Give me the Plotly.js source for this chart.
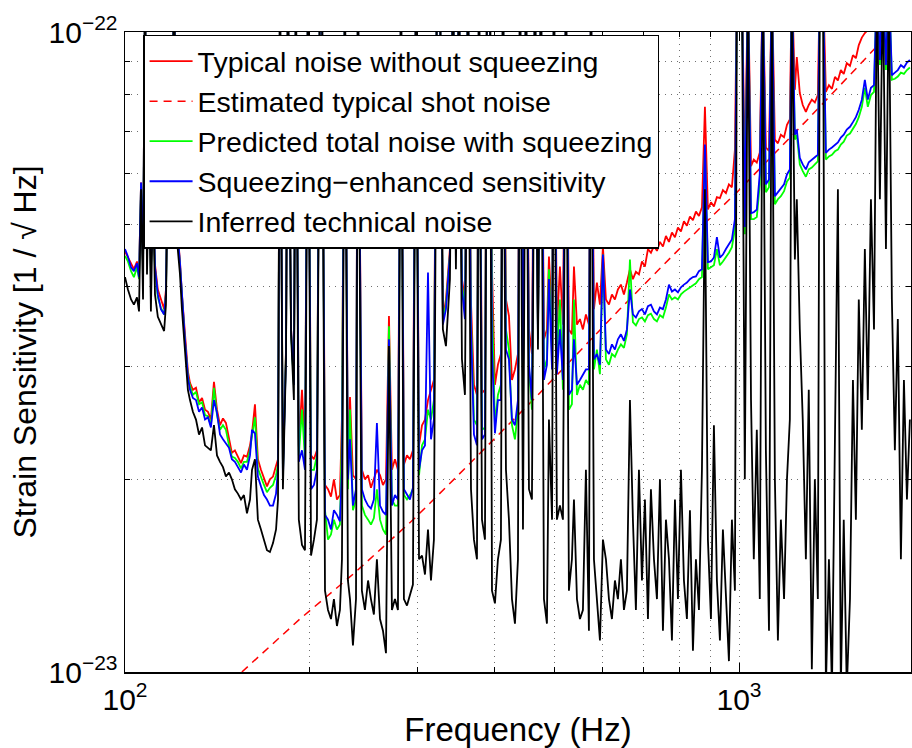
<!DOCTYPE html>
<html>
<head>
<meta charset="utf-8">
<script src="https://cdn.plot.ly/plotly-3.0.1.min.js"></script>
<style>html,body{margin:0;padding:0;background:#fff;}#chart{width:912px;height:748px;}</style>
</head>
<body>
<div id="chart"></div>
<script>
// Strain values are in units of 1e-23 (1/sqrt(Hz)); 12 marks a line peak running off the top.
const UNIT = 1e-23;

const freqHz = [
100.0,101.1,102.3,103.4,104.6,105.4,106.2,107.0,107.8,108.6,109.4,110.2,111.1,111.9,113.1,114.4,115.8,116.6,117.5,118.9,120.2,121.5,122.9,123.8,125.2,126.6,
127.6,129.0,130.5,132.0,133.5,135.0,136.5,138.0,139.6,141.2,
142.8,144.4,146.0,147.7,149.3,151.0,152.7,154.5,156.2,158.0,
159.8,161.0,162.8,164.6,166.5,168.4,170.3,172.2,174.2,176.2,
177.5,178.8,180.8,182.9,184.2,186.4,188.4,189.8,191.9,194.2,
196.4,198.6,200.9,203.1,205.4,207.7,209.3,211.7,214.1,216.5,
218.9,221.4,223.9,225.6,228.1,230.7,232.5,235.1,237.8,239.5,
243.1,245.9,248.8,251.5,254.3,257.2,260.2,263.1,266.1,269.1,
272.1,275.2,278.3,281.5,284.6,287.9,291.1,294.4,297.7,301.2,
304.6,308.0,311.5,315.0,318.5,322.1,325.8,329.4,333.2,
338.2,342.1,345.9,349.9,353.8,357.8,361.9,366.0,370.1,374.3,
377.1,381.4,385.7,388.6,393.0,396.0,400.4,404.9,409.5,412.6,
417.3,422.0,426.8,431.6,436.5,439.8,444.8,449.8,454.9,460.0,
465.2,470.5,475.8,481.2,486.6,490.3,496.0,499.5,505.1,510.9,
516.7,522.6,528.4,534.4,538.5,544.6,550.7,556.9,563.2,569.6,
573.9,580.4,586.9,593.6,600.3,607.1,614.0,620.9,627.9,635.0,
642.2,649.5,656.8,664.3,
671.7,679.3,687.1,694.9,702.7,710.7,718.7,726.9,735.1,743.4,751.8,760.3,769.0,777.6,786.4,795.3,804.3,813.4,822.5,831.9,841.3,850.8,860.5,870.2,880.0,889.9,900.1,910.2,920.4,930.9,941.4,952.1,962.9,973.7,984.8,
992.2,1000,1011,1022,1034,
1046,1057,1069,1081,1093,1106,1119,1131,1144,1157,1170,1184,1197,1210,
1219,
1233,1242,
1256,1270,1285,1299,1314,1329,1344,
1354,
1370,1385,1401,1417,1433,1449,1465,1481,1498,1516,1533,1550,1567,1585,1603,1621,1640,1659,1677,1696,1715,1735,1754,1774,1794,1814,1835,1856,1877,1898
];

const typicalNoise = [
4.54,4.44,4.33,4.26,4.38,4.18,5.82,4.33,12,4.58,6.55,4.26,5.88,4.33,3.96,3.82,3.69,3.96,6.79,5.10,12,5.01,4.38,3.89,3.33,2.95,
2.83,2.76,2.78,2.64,2.68,2.57,2.55,2.48,2.84,2.57,
2.43,2.49,2.45,2.31,2.20,2.22,2.17,2.12,2.18,2.17,
2.26,2.36,2.62,2.15,2.07,2.01,1.95,2.00,2.02,2.10,
2.15,12,2.07,3.19,12,3.43,2.86,12,2.25,2.76,
2.22,12,2.18,2.15,2.22,12,12,1.96,1.93,1.88,
2.00,1.86,1.89,2.51,12,2.07,2.69,2.03,2.00,12,
2.07,2.00,2.03,1.94,2.00,2.07,2.03,1.96,2.00,3.60,
2.07,2.15,2.07,12,2.11,2.18,2.15,2.22,12,2.26,
2.43,2.48,2.66,2.76,2.86,12,12,3.56,3.82,
4.58,12,4.74,12,4.11,3.82,12,3.78,2.81,2.71,
12,2.73,2.76,12,12,4.26,2.81,3.02,3.14,12,
3.82,3.60,2.86,2.97,3.14,12,3.19,12,3.43,3.14,
12,3.43,12,3.31,3.43,4.46,3.56,12,3.43,4.30,
3.49,12,3.43,3.37,4.30,3.49,3.56,3.43,3.62,3.49,
12,3.69,4.06,3.75,4.62,3.82,3.75,3.89,3.82,3.96,
4.03,3.89,4.06,4.26,
4.11,4.22,4.18,4.38,4.30,4.58,4.52,4.63,4.55,4.70,4.62,4.80,4.70,4.86,4.78,4.95,4.88,5.06,4.98,5.15,5.08,5.24,5.16,5.32,7.64,5.28,5.42,5.34,5.52,5.50,5.66,5.60,5.78,5.72,6.55,
12,12,12,5.99,12,
6.17,6.32,6.25,6.48,12,6.60,6.52,12,6.79,6.70,6.91,6.85,7.16,7.30,
12,
8.12,9.14,
8.03,7.69,7.50,7.69,7.84,7.76,7.97,
12,
12,8.06,8.26,8.15,8.51,8.40,8.72,8.60,8.94,8.85,9.20,9.10,9.54,9.80,9.96,10.07,10.25,10.44,12,10.63,12,10.63,12,10.53,10.44,10.44,10.44,10.44,10.44,10.44
];

const predictedSqueezed = [
4.47,4.38,4.23,4.14,4.29,4.11,5.78,4.26,12,4.49,6.55,4.18,5.84,4.26,3.85,3.71,3.62,3.89,6.74,5.06,12,4.96,4.32,3.82,3.29,2.90,
2.80,2.71,2.74,2.62,2.64,2.52,2.51,2.43,2.78,2.52,
2.39,2.43,2.39,2.26,2.17,2.16,2.13,2.08,2.13,2.13,
2.22,2.34,2.50,2.08,2.01,1.96,1.91,1.94,1.96,2.03,
2.11,12,2.03,3.17,12,3.39,2.81,12,2.18,2.57,
2.15,12,2.07,2.07,2.18,12,12,1.79,1.61,1.64,
1.73,1.67,1.70,2.37,12,1.93,2.57,1.79,1.86,12,
1.82,1.76,1.73,1.70,1.74,1.93,1.73,1.67,1.64,3.47,
1.86,1.82,1.82,12,1.89,1.86,1.89,1.93,12,2.03,
2.26,2.31,2.57,2.48,2.66,12,12,3.53,3.75,
4.49,12,4.66,12,4.03,3.69,12,3.56,2.48,2.43,
12,2.39,2.41,12,12,3.82,2.43,2.71,2.81,12,
3.43,3.19,2.43,2.31,2.57,12,2.76,12,2.97,2.57,
12,3.37,12,2.97,3.08,4.26,3.14,12,3.08,3.82,
2.76,12,2.57,2.62,3.82,2.71,2.81,2.76,2.86,2.81,
12,2.97,3.19,2.92,4.49,3.08,3.02,3.14,3.11,3.19,
3.25,3.21,3.37,4.41,
3.52,3.48,3.56,3.58,3.53,3.61,3.63,3.56,3.53,3.61,3.58,3.71,3.89,3.82,3.85,3.82,3.89,3.93,3.96,3.99,4.02,4.05,4.11,4.14,6.55,4.26,4.29,4.32,4.58,4.32,4.38,4.44,4.52,4.61,4.92,
12,12,12,4.83,12,
5.10,5.10,5.14,5.78,12,5.62,5.72,12,5.38,5.48,5.54,5.64,5.84,5.92,
12,
6.79,6.91,
6.21,6.06,5.94,6.10,6.14,6.21,6.28,
12,
12,6.32,6.39,6.43,6.51,6.55,6.67,6.74,6.89,6.94,7.06,7.18,7.36,7.64,8.18,7.64,7.97,8.06,12,8.88,12,8.72,12,8.42,8.45,8.52,8.64,8.60,8.72,8.80
];

const squeezedSensitivity = [
4.58,4.46,4.29,4.23,4.35,4.14,5.82,4.29,12,4.58,6.55,4.23,5.88,4.29,3.89,3.69,3.62,3.89,6.79,5.10,12,5.01,4.35,3.85,3.31,2.89,
2.76,2.68,2.66,2.55,2.59,2.48,2.50,2.41,2.66,2.54,
2.35,2.31,2.28,2.24,2.15,2.13,2.09,2.05,2.11,2.07,
2.18,2.39,2.36,2.02,1.95,1.89,1.86,1.82,1.82,1.90,
2.07,12,2.00,3.14,12,3.43,2.81,12,2.13,2.22,
2.07,12,1.93,1.96,2.07,12,12,1.76,1.73,1.67,
1.79,1.76,1.72,2.07,12,2.00,2.31,1.82,1.93,12,
1.93,1.86,1.82,1.80,1.86,2.45,1.82,1.78,1.76,3.31,
1.82,1.89,1.86,12,1.93,1.89,1.86,1.94,12,2.07,
2.22,2.26,4.21,2.31,2.48,12,12,3.49,3.69,
4.49,12,4.66,12,3.96,3.56,12,3.43,2.35,2.26,
12,2.31,2.35,12,12,3.19,2.36,2.66,2.66,12,
3.19,3.08,2.48,2.43,2.66,12,2.81,12,3.02,2.66,
12,3.31,12,2.86,3.02,4.11,2.97,12,2.92,3.43,
2.86,12,2.71,2.76,3.31,2.81,2.86,2.92,2.97,2.97,
12,3.08,3.14,3.02,4.49,3.19,3.14,3.25,3.19,3.31,
3.37,3.29,3.43,3.96,
3.62,3.58,3.66,3.69,3.62,3.73,3.75,3.66,3.62,3.71,3.69,3.82,4.03,3.93,3.96,3.92,3.99,4.03,4.06,4.11,4.14,4.15,4.23,4.26,6.67,4.37,4.38,4.44,4.78,4.44,4.49,4.58,4.66,4.74,5.10,
12,12,12,4.96,12,
5.21,5.23,5.28,6.01,12,5.78,5.88,12,5.54,5.62,5.68,5.78,5.99,6.10,
12,
6.91,7.04,
6.36,6.21,6.10,6.26,6.32,6.39,6.43,
12,
12,6.47,6.55,6.60,6.67,6.72,6.84,6.91,7.04,7.11,7.23,7.36,7.56,7.84,8.42,7.84,8.18,8.26,12,9.04,12,8.88,12,8.56,8.64,8.72,8.88,8.80,8.96,9.04
];

const technicalNoise = [
4.14,3.96,3.82,3.75,3.85,3.66,5.68,3.82,12,4.18,6.32,3.66,5.68,3.89,3.59,3.49,3.41,3.75,6.55,4.96,12,4.74,4.18,3.69,3.14,2.76,
2.66,2.55,2.48,2.35,2.41,2.26,2.24,2.22,2.43,2.18,
2.13,2.09,2.02,2.05,2.00,1.93,1.90,1.86,1.89,1.77,
1.86,2.07,2.15,1.73,1.67,1.61,1.55,1.54,1.59,1.67,
1.86,12,1.93,3.08,12,3.37,2.66,12,1.73,1.58,
1.55,12,1.52,1.61,1.73,12,12,1.34,1.25,1.21,
1.30,1.18,1.25,1.50,12,1.39,1.30,1.10,1.30,12,
1.34,1.25,1.39,1.30,1.23,1.50,1.21,1.16,1.07,3.23,
1.25,1.30,1.25,12,1.30,1.27,1.32,1.37,12,1.50,
1.52,1.42,1.67,1.39,1.61,12,12,3.43,3.23,
4.11,12,4.26,12,3.08,2.71,12,1.93,1.61,1.50,
12,1.73,1.61,12,12,1.34,1.28,1.50,1.61,12,
2.07,1.73,1.30,1.19,1.50,12,1.67,12,1.93,1.86,
12,3.19,12,1.30,1.19,2.48,1.73,12,1.73,1.82,
1.73,12,1.34,1.50,1.86,1.30,1.21,1.25,2.07,1.16,
12,1.50,1.30,1.12,1.61,1.50,1.30,1.21,1.39,1.30,
1.50,1.25,1.34,2.66,
1.73,1.25,2.07,1.39,1.86,1.21,1.93,1.50,1.30,2.00,1.16,1.73,1.50,1.12,1.86,1.30,2.07,1.39,1.21,1.79,1.08,1.50,1.25,2.07,5.68,1.61,1.21,2.43,1.39,1.12,1.67,1.30,1.04,1.73,1.34,
12,12,12,2.00,12,
2.66,1.50,2.39,1.30,12,2.22,1.16,12,2.00,1.12,1.73,1.30,2.00,2.48,
12,
4.41,5.48,
3.43,2.48,1.50,2.76,1.01,2.00,1.30,
12,
12,0.94,1.50,0.94,2.22,5.68,0.94,1.73,0.94,1.30,2.86,1.73,3.82,2.39,4.58,2.66,5.48,3.43,12,5.48,12,4.58,12,3.82,2.22,3.56,1.50,2.86,1.86,2.48
];

const shotFreqHz = [155, 192.7, 236.9, 296.6, 357.8, 468.8, 639.8, 863.7, 992.5, 1304, 1616, 1794];
const shotNoise  = [1.00, 1.21, 1.43, 1.74, 2.08, 2.70, 3.69, 4.94, 5.62, 7.36, 9.14, 10.2];

const legendNames = [
  'Typical noise without squeezing',
  'Estimated typical shot noise',
  'Predicted total noise with squeezing',
  'Squeezing\u2212enhanced sensitivity',
  'Inferred technical noise'
];

const xMajorTicks = [100, 1000];
const xMajorText = ['10<sup>2</sup>', '10<sup>3</sup>'];
const xMinorTicks = [200, 300, 400, 500, 600, 700, 800, 900];
const yMajorTicks = [1, 10];
const yMajorText = ['10<sup>\u221223</sup>', '10<sup>\u221222</sup>'];
const yMinorTicks = [2, 3, 4, 5, 6, 7, 8, 9];

const toStrain = a => a.map(v => v * UNIT);
const n = Math.min(freqHz.length, typicalNoise.length, predictedSqueezed.length, squeezedSensitivity.length, technicalNoise.length);
const fx = freqHz.slice(0, n);

function tr(x, y, name, color, width, dash) {
  return {x: x, y: toStrain(y.slice(0, x.length)), name: name, type: 'scatter', mode: 'lines',
          line: {color: color, width: width, dash: dash || 'solid'}, hoverinfo: 'skip'};
}

const data = [
  tr(fx, typicalNoise, legendNames[0], '#ff0000', 1.8),
  tr(shotFreqHz, shotNoise, legendNames[1], '#ff0000', 1.5, '8px,6px'),
  tr(fx, predictedSqueezed, legendNames[2], '#00ff00', 1.8),
  tr(fx, squeezedSensitivity, legendNames[3], '#0000ff', 1.8),
  tr(fx, technicalNoise, legendNames[4], '#000000', 1.8)
];

const FONT = '"Liberation Sans", Arial, Helvetica, sans-serif';
const gridStyle = {showgrid: true, gridcolor: '#707070', griddash: '1px,5px', gridwidth: 1};

const layout = {
  width: 912, height: 748,
  margin: {l: 125, r: 1, t: 32, b: 76},
  paper_bgcolor: '#ffffff', plot_bgcolor: '#ffffff',
  font: {family: FONT, color: '#000000', size: 28},
  showlegend: true,
  legend: {x: 0.023, y: 0.996, xanchor: 'left', yanchor: 'top', bgcolor: '#ffffff',
           bordercolor: '#000000', borderwidth: 1.5, font: {family: FONT, size: 28.5, color: '#000'},
           tracegroupgap: 0, itemwidth: 43},
  xaxis: Object.assign({
    type: 'log', range: [2, 3.2801], tickmode: 'array', tickvals: xMajorTicks, ticktext: xMajorText,
    ticks: 'inside', ticklen: 9, tickwidth: 1, tickcolor: '#000',
    showline: true, linecolor: '#000', linewidth: 1.5, mirror: 'ticks', zeroline: false,
    tickfont: {family: FONT, size: 30, color: '#000'},
    minor: Object.assign({tickmode: 'array', tickvals: xMinorTicks, ticks: 'inside', ticklen: 5, tickcolor: '#000'}, gridStyle),
    title: {text: 'Frequency (Hz)', font: {family: FONT, size: 33, color: '#000'}, standoff: 6}
  }, gridStyle),
  yaxis: Object.assign({
    type: 'log', range: [-23, -22], tickmode: 'array', tickvals: toStrain(yMajorTicks), ticktext: yMajorText,
    ticks: 'inside', ticklen: 9, tickwidth: 1, tickcolor: '#000',
    showline: true, linecolor: '#000', linewidth: 1.5, mirror: 'ticks', zeroline: false,
    tickfont: {family: FONT, size: 30, color: '#000'},
    minor: Object.assign({tickmode: 'array', tickvals: toStrain(yMinorTicks), ticks: 'inside', ticklen: 5, tickcolor: '#000'}, gridStyle),
    title: {text: 'Strain Sensitivity [1 / \u221A Hz]', font: {family: FONT, size: 32, color: '#000'}, standoff: 2}
  }, gridStyle)
};

Plotly.newPlot('chart', data, layout, {staticPlot: true, displayModeBar: false});
</script>
</body>
</html>
